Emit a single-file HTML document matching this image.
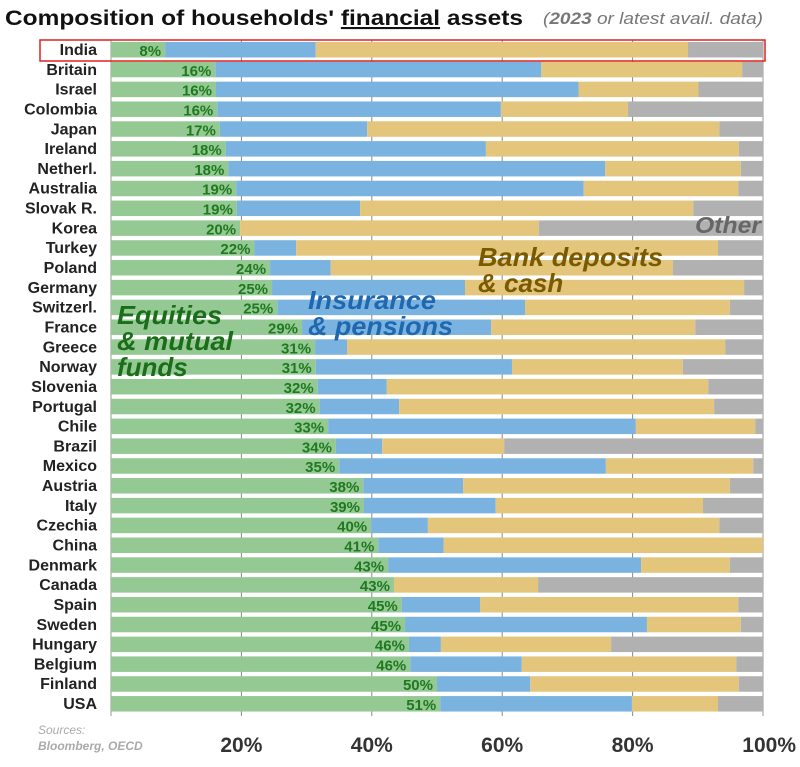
<!DOCTYPE html>
<html><head><meta charset="utf-8"><style>
body{margin:0;background:#fff;width:800px;height:762px;overflow:hidden}
svg{font-family:"Liberation Sans Narrow","Liberation Sans",sans-serif}
</style></head><body>
<svg id="chart" width="800" height="762" xmlns="http://www.w3.org/2000/svg">
<text x="5" y="25" font-family="Liberation Sans" font-weight="bold" font-size="21" fill="#111" textLength="518" lengthAdjust="spacingAndGlyphs">Composition of households' <tspan text-decoration="underline">financial</tspan> assets</text>
<text x="543" y="24" font-family="Liberation Sans" font-style="italic" font-size="17" fill="#777" textLength="220" lengthAdjust="spacingAndGlyphs">(<tspan font-weight="bold">2023</tspan> or latest avail. data)</text>
<g id="grid"></g><g id="bars"></g><g id="labels"></g>
<text x="38" y="734" font-style="italic" font-size="12" fill="#aaa">Sources:</text>
<text x="38" y="750" font-style="italic" font-weight="bold" font-size="12" fill="#aaa">Bloomberg, OECD</text>
<text x="695" y="233" font-style="italic" font-weight="bold" font-size="23" fill="#666" textLength="66" lengthAdjust="spacingAndGlyphs">Other</text>
<text x="478" y="266" font-style="italic" font-weight="bold" font-size="26" fill="#7a5a00" textLength="185" lengthAdjust="spacingAndGlyphs">Bank deposits</text>
<text x="478" y="292" font-style="italic" font-weight="bold" font-size="26" fill="#7a5a00">&amp; cash</text>
<text x="308" y="309" font-style="italic" font-weight="bold" font-size="26" fill="#1f68b0" textLength="128" lengthAdjust="spacingAndGlyphs">Insurance</text>
<text x="308" y="335" font-style="italic" font-weight="bold" font-size="26" fill="#1f68b0" textLength="145" lengthAdjust="spacingAndGlyphs">&amp; pensions</text>
<text x="117" y="324" font-style="italic" font-weight="bold" font-size="26" fill="#1a6e1a" textLength="105" lengthAdjust="spacingAndGlyphs">Equities</text>
<text x="117" y="350" font-style="italic" font-weight="bold" font-size="26" fill="#1a6e1a" textLength="116" lengthAdjust="spacingAndGlyphs">&amp; mutual</text>
<text x="117" y="376" font-style="italic" font-weight="bold" font-size="26" fill="#1a6e1a">funds</text>
<rect x="40" y="40" width="725" height="21" fill="none" stroke="#e02020" stroke-width="1.5"/>
</svg>
<script>
const countries=["India","Britain","Israel","Colombia","Japan","Ireland","Netherl.","Australia","Slovak R.","Korea","Turkey","Poland","Germany","Switzerl.","France","Greece","Norway","Slovenia","Portugal","Chile","Brazil","Mexico","Austria","Italy","Czechia","China","Denmark","Canada","Spain","Sweden","Hungary","Belgium","Finland","USA"];
const equities=[8.3,16,16.1,16.3,16.7,17.6,18,19.2,19.3,19.8,22,24.4,24.7,25.5,29.3,31.3,31.4,31.7,32,33.3,34.5,35,38.7,38.8,39.9,41,42.5,43.4,44.6,45.1,45.7,45.9,50,50.5];
const insurance=[23.1,50,55.6,43.5,22.6,39.9,57.8,53.3,18.9,0,6.4,9.3,29.6,38,29,4.9,30.1,10.6,12.2,47.2,7.1,40.9,15.3,20.2,8.7,10,38.8,0,12,37.1,4.9,17.1,14.3,29.4];
const deposits=[57.1,30.8,18.4,19.5,54,38.8,20.8,23.7,51.1,45.8,64.7,52.5,42.8,31.4,31.3,58,26.2,49.3,48.3,18.3,18.7,22.6,40.9,31.8,44.7,49,13.6,22.1,39.6,14.4,26.1,32.9,32,13.2];
const pctLabels=["8%","16%","16%","16%","17%","18%","18%","19%","19%","20%","22%","24%","25%","25%","29%","31%","31%","32%","32%","33%","34%","35%","38%","39%","40%","41%","43%","43%","45%","45%","46%","46%","50%","51%"];
const ticks=[20,40,60,80,100];
const NS="http://www.w3.org/2000/svg";
const x0=111,x1=763,y0=42,pitch=19.82,bh=15.5;
const xs=v=>x0+(x1-x0)*v/100;
const ys=i=>y0+i*pitch;
function mk(t,a,parent){const e=document.createElementNS(NS,t);for(const k in a)e.setAttribute(k,a[k]);document.getElementById(parent).appendChild(e);return e;}
ticks.forEach(t=>{
  const l=mk("line",{x1:xs(t),x2:xs(t),y1:40,y2:716,stroke:t==100?"#999":"#888","stroke-width":1},"grid");
  
  
  const tx=mk("text",{x:xs(t),y:752,"text-anchor":t==100?"end":"middle","font-size":21,"font-weight":"bold",fill:"#333"},"grid");
  if(t==100)tx.setAttribute("x",xs(t)+33);
  tx.textContent=t+"%";
  
  
});
const ax=mk("line",{x1:x0,x2:x0,y1:40,y2:716,stroke:"#999"},"grid");


const colors=["#94c994","#7bb3e0","#e3c57c","#b1b1b1"];
countries.forEach((c,i)=>{
  const segs=[equities[i],insurance[i],deposits[i],Math.max(0,100-equities[i]-insurance[i]-deposits[i])];
  let acc=0;
  segs.forEach((v,j)=>{
    if(v<=0)return;
    const r=mk("rect",{x:xs(acc),y:ys(i),width:xs(acc+v)-xs(acc),height:bh,fill:colors[j]},"bars");
    
    
    acc+=v;
  });
  const lab=mk("text",{x:97,y:ys(i)+13,"text-anchor":"end","font-size":16,"font-weight":"bold",fill:"#222"},"labels");
  lab.textContent=c;
  
  
  const pl=mk("text",{x:xs(equities[i])-4,y:ys(i)+14,"text-anchor":"end","font-size":15,"font-weight":"bold",fill:"#1f7a1f"},"labels");
  pl.textContent=pctLabels[i];
  
  
});
</script>
</body></html>
